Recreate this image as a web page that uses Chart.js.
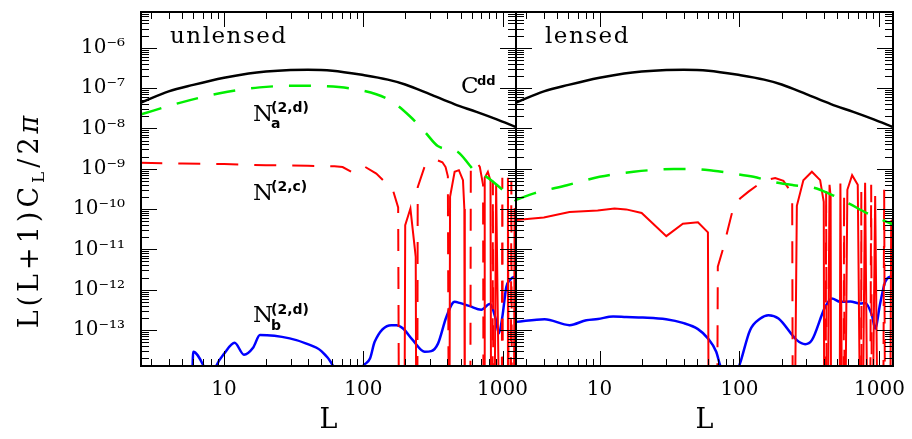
<!DOCTYPE html>
<html><head><meta charset="utf-8">
<script src="https://cdn.jsdelivr.net/npm/chart.js@4.4.1/dist/chart.umd.min.js"></script>
<style>
html,body{margin:0;padding:0;background:#fff;overflow:hidden}
#wrap{position:relative;width:912px;height:439px;background:#fff}
#cL{position:absolute;left:0;top:0;width:530px;height:439px}
#cR{position:absolute;left:506px;top:0;width:406px;height:439px}
</style></head><body><div id="wrap">
<canvas id="cL" width="530" height="439"></canvas>
<canvas id="cR" width="406" height="439"></canvas>
</div>
<script>
// ---------------- data ----------------
const cddL = [2.5, 4, 6, 10, 15, 20, 30, 40, 60, 100, 150, 200, 300, 450, 650, 900, 1250];
const cddV = [4.3e-8, 8.3e-8, 1.2e-7, 1.8e-7, 2.3e-7, 2.57e-7, 2.8e-7, 2.85e-7, 2.7e-7, 2.1e-7, 1.62e-7, 1.23e-7, 7.1e-8, 4.0e-8, 2.57e-8, 1.7e-8, 1.08e-8];

const naUnlensedL = [2.5, 4.8, 9.3, 18, 33, 49, 100, 155, 216, 277, 345, 478, 582, 650, 765, 1000, 1250];
const naUnlensedV = [2.2e-8, 4.3e-8, 7.4e-8, 1.04e-7, 1.14e-7, 1.12e-7, 8.6e-8, 5.0e-8, 2.0e-8, 8.2e-9, 3.6e-9, 2.6e-9, 1.2e-9, 7.6e-10, 6.3e-10, 3.0e-10, 1.6e-10];

const naLensedL = [2.5, 3.4, 5.85, 10, 17.5, 34, 47, 65, 90, 126, 175, 243, 338, 445, 618, 813, 1130, 1250];
const naLensedV = [1.66e-10, 2.44e-10, 3.9e-10, 6.3e-10, 8.4e-10, 9.8e-10, 9.8e-10, 8.9e-10, 7.6e-10, 6.3e-10, 4.7e-10, 3.9e-10, 3.4e-10, 2.34e-10, 1.32e-10, 7.9e-11, 4.8e-11, 4.2e-11];

// N^(2,c): signed values (positive = solid, negative = dashed, 0 = zero crossing)
const ncUnlensedL = [2.5, 5, 10, 20, 40, 62, 71, 82, 92, 100, 124, 163, 178, 181,
  197, 200, 218, 238, 241,
  244, 246, 275, 300, 338, 370, 390, 405, 412,
  415, 420, 453, 486, 520, 532, 536,
  586, 592, 614, 650, 687, 725, 732,
  738, 745, 785, 820, 830,
  845, 853, 861,
  870, 900, 960,
  985, 997, 1010,
  1080, 1094, 1110,
  1145, 1157, 1170,
  1205, 1222, 1250];
const ncUnlensedV = [-1.4e-9, -1.35e-9, -1.3e-9, -1.22e-9, -1.18e-9, -1.15e-9, -1.1e-9, -8.4e-10, -1.02e-9, -1.18e-9, -7.6e-10, -3e-10, -1.1e-10, 0,
  0, 4e-11, 1.03e-10, 6.5e-12, 0,
  0, -3.5e-10, -1.1e-9, -1.48e-9, -1.63e-9, -1.45e-9, -1.1e-9, -6.5e-10, 0,
  0, 2e-10, 8.4e-10, 9.2e-10, 5.2e-10, 1e-10, 0,
  0, -1.2e-9, -1.23e-9, -1.48e-9, -1.11e-9, -4e-10, 0,
  0, 6e-10, 8.4e-10, 5e-10, 0,
  0, -5e-10, 0,
  0, 4e-10, 0,
  0, -6e-10, 0,
  0, 6e-10, 0,
  0, -5e-10, 0,
  0, 1e-10, 1e-10];

const ncLensedL = [2.5, 4, 6.1, 9.7, 12.8, 15.5, 20, 30, 39.4, 50.5, 59.5, 60.5,
  69, 70, 77, 83.4, 90.6, 101, 116, 148, 180, 206, 228, 238, 241,
  246, 257, 286, 329, 377, 400, 404,
  412, 416, 421,
  424, 440, 448, 452,
  518, 526, 545,
  553, 559, 565,
  566, 590, 638, 700, 735,
  738, 742, 747,
  752, 790, 828,
  855, 873, 885,
  888, 932, 980,
  1060, 1081, 1100,
  1190, 1213, 1253];
const ncLensedV = [5.3e-11, 6.2e-11, 8.4e-11, 9.2e-11, 1.03e-10, 9.8e-11, 8e-11, 2.13e-11, 4.3e-11, 4.7e-11, 2.63e-11, 0,
  0, -3.7e-12, -1.15e-11, -3.6e-11, -1.13e-10, -1.83e-10, -2.7e-10, -5e-10, -5.9e-10, -5e-10, -3e-10, -2e-10, 0,
  0, 1.2e-10, 5.2e-10, 8.4e-10, 5.2e-10, 1.5e-10, 0,
  0, -3e-10, 0,
  0, 4e-10, 2e-10, 0,
  0, 4.3e-10, 0,
  0, -2.5e-10, 0,
  0, 3e-10, 6.9e-10, 4e-10, 0,
  0, -3e-10, 0,
  0, 4.5e-10, 0,
  0, -4e-10, 0,
  0, 2.1e-10, 0,
  0, -3e-10, 0,
  0, 5e-11, 5.5e-11];

const nbUnlensedL = [5.9, 6, 7.2, 8, 8.8, 10.1, 11.9, 13.9, 16.2, 18.1, 29.6, 39, 50, 60.6, 75, 100, 111.7, 120.7, 159, 173, 193, 227, 276, 308, 344, 395, 453, 492, 582, 705, 810, 892, 942, 997, 1065, 1127, 1222, 1250];
const nbUnlensedV = [5e-15, 2.9e-14, 1.2e-14, 5e-15, 1.3e-14, 2.7e-14, 4.8e-14, 2.45e-14, 3.7e-14, 7.5e-14, 6.2e-14, 4.6e-14, 3.0e-14, 1.3e-14, 2e-15, 1.3e-14, 1.96e-14, 5.1e-14, 1.32e-13, 1.32e-13, 1.09e-13, 5.6e-14, 2.9e-14, 3.0e-14, 4.6e-14, 2.1e-13, 5.0e-13, 4.7e-13, 3.9e-13, 3.2e-13, 4.4e-13, 1.93e-13, 8.2e-14, 2.1e-13, 1.17e-12, 1.72e-12, 2.09e-12, 2.1e-12];

const nbLensedL = [2.54, 4.05, 6.1, 8.04, 9.74, 12.5, 15.5, 20.4, 29.9, 39.4, 50.5, 59.5, 68.2, 72.8, 85, 101, 119, 141, 161, 190, 257, 295, 329, 409, 457, 524, 618, 728, 791, 883, 932, 1012, 1099, 1227, 1253];
const nbLensedV = [1.59e-13, 1.85e-13, 1.32e-13, 1.75e-13, 1.88e-13, 2.16e-13, 2.1e-13, 2.04e-13, 1.85e-13, 1.5e-13, 1.05e-13, 6.2e-14, 2.9e-14, 1.3e-14, 3e-15, 1.5e-14, 9.9e-14, 1.93e-13, 2.33e-13, 1.93e-13, 5.6e-14, 4.45e-14, 5.6e-14, 3.7e-13, 6.05e-13, 5.0e-13, 5.1e-13, 4.55e-13, 4.7e-13, 2.33e-13, 1.09e-13, 4.55e-13, 1.56e-12, 2.16e-12, 2.2e-12];

const xTickValues = [10, 100, 1000];
const xTickLabels = ['10', '100', '1000'];
const yTickExponents = [-13, -12, -11, -10, -9, -8, -7, -6];

const X_MIN = 2.53, X_MAX = 1250, Y_MIN = 1.28e-14, Y_MAX = 7.7e-6;
const TINY = 1e-17;

// ---------------- helpers ----------------
const SUP = {'-':'\u207B','0':'\u2070','1':'\u00B9','2':'\u00B2','3':'\u00B3','4':'\u2074','5':'\u2075','6':'\u2076','7':'\u2077','8':'\u2078','9':'\u2079'};
function supStr(n){ return String(n).split('').map(c => SUP[c]).join(''); }
function pts(Ls, Vs){ return Ls.map((l,i) => ({x:l, y:Vs[i]})); }
function signed(Ls, Vs, wantPos){
  return Ls.map((l,i) => {
    const v = Vs[i];
    if (v === 0) return {x:l, y:TINY};
    if ((v > 0) === wantPos) return {x:l, y:Math.abs(v)};
    return {x:l, y:null};
  });
}
function txt(ctx, s, x, y, font, sp){
  ctx.font = font;
  if (!sp){ ctx.fillText(s, x, y); return x + ctx.measureText(s).width; }
  for (const ch of s){ ctx.fillText(ch, x, y); x += ctx.measureText(ch).width + sp; }
  return x - sp;
}

const DASH = [22, 16];
const GREEN = '#00ee00', RED = '#ff0000', BLUE = '#0000ff';

function datasets(naL, naV, ncL, ncV, nbL, nbV){
  return [
    {data: pts(cddL, cddV), borderColor:'#000', borderWidth:2.5, cubicInterpolationMode:'monotone'},
    {data: pts(naL, naV), borderColor:GREEN, borderWidth:2.5, borderDash:DASH, cubicInterpolationMode:'monotone'},
    {data: signed(ncL, ncV, true), borderColor:RED, borderWidth:2, tension:0, spanGaps:false},
    {data: signed(ncL, ncV, false), borderColor:RED, borderWidth:2, borderDash:DASH, tension:0, spanGaps:false},
    {data: pts(nbL, nbV), borderColor:BLUE, borderWidth:2.5, cubicInterpolationMode:'monotone'}
  ];
}

const framePlugin = {
  id:'frame',
  afterDraw(chart){
    const {ctx, chartArea:a, scales:{x, y}} = chart;
    ctx.save();
    ctx.beginPath();
    ctx.strokeStyle = '#000'; ctx.lineWidth = 1;
    for (let e = 0; e <= 3; e++) for (let m = 1; m <= 9; m++){
      const v = m * Math.pow(10, e);
      if (v <= X_MIN || v >= X_MAX) continue;
      const px = Math.round(x.getPixelForValue(v)) + 0.5;
      const len = m === 1 ? 15 : 7;
      ctx.moveTo(px, a.bottom); ctx.lineTo(px, a.bottom - len);
      ctx.moveTo(px, a.top); ctx.lineTo(px, a.top + len);
    }
    for (let e = -14; e <= -6; e++) for (let m = 1; m <= 9; m++){
      const v = m * Math.pow(10, e);
      if (v <= Y_MIN || v >= Y_MAX) continue;
      const py = Math.round(y.getPixelForValue(v)) + 0.5;
      const len = m === 1 ? 16 : 8;
      ctx.moveTo(a.left, py); ctx.lineTo(a.left + len, py);
      ctx.moveTo(a.right, py); ctx.lineTo(a.right - len, py);
    }
    ctx.stroke();
    ctx.lineWidth = 2;
    ctx.strokeRect(a.left, a.top, a.right - a.left, a.bottom - a.top);
    ctx.restore();
  }
};

const SERIF = 'DejaVu Serif';
const SANS = 'DejaVu Sans';

const leftText = {
  id:'leftText',
  afterDraw(chart){
    const ctx = chart.ctx;
    ctx.save();
    ctx.fillStyle = '#000';
    ctx.textBaseline = 'alphabetic';
    ctx.textAlign = 'left';
    txt(ctx, 'unlensed', 170, 43, '23px ' + SERIF, 1.5);
    txt(ctx, 'C', 461, 93, '23px ' + SERIF);
    txt(ctx, 'dd', 477, 85, 'bold 13px ' + SANS);
    txt(ctx, 'N', 253, 121, '23px ' + SERIF);
    txt(ctx, '(2,d)', 271, 112, 'bold 14px ' + SANS);
    txt(ctx, 'a', 271, 128, 'bold 14px ' + SANS);
    txt(ctx, 'N', 253, 200, '23px ' + SERIF);
    txt(ctx, '(2,c)', 271, 191, 'bold 14px ' + SANS);
    txt(ctx, 'N', 253, 322, '23px ' + SERIF);
    txt(ctx, '(2,d)', 271, 314, 'bold 14px ' + SANS);
    txt(ctx, 'b', 271, 330, 'bold 14px ' + SANS);
    // y-axis title
    ctx.translate(38, 222);
    ctx.rotate(-Math.PI / 2);
    const f = '27px ' + SERIF, fs = '17px ' + SERIF, fp = 'italic 27px ' + SERIF, sp = 4;
    const meas = (s, font) => { ctx.font = font; let w = 0; for (const ch of s) w += ctx.measureText(ch).width + sp; return w; };
    const total = meas('L(L+1)C', f) + meas('L', fs) + meas('/2', f) + meas('\u03C0', fp) - sp;
    let cx = -total / 2;
    cx = txt(ctx, 'L(L+1)C', cx, 0, f, sp) + sp;
    cx = txt(ctx, 'L', cx, 6, fs, sp) + sp;
    cx = txt(ctx, '/2', cx, 0, f, sp) + sp;
    txt(ctx, '\u03C0', cx, 0, fp, sp);
    ctx.restore();
  }
};
const rightText = {
  id:'rightText',
  afterDraw(chart){
    const ctx = chart.ctx;
    ctx.save();
    ctx.fillStyle = '#000';
    txt(ctx, 'lensed', 545 - 506, 43, '23px ' + SERIF, 1.5);
    ctx.restore();
  }
};

function makeOptions(showY, padLeft, padRight){
  return {
    responsive:false, animation:false, devicePixelRatio:1,
    layout:{padding:{left:padLeft, right:padRight, top:12, bottom:0}},
    elements:{point:{radius:0}, line:{fill:false}},
    plugins:{legend:{display:false}, tooltip:{enabled:false}},
    scales:{
      x:{
        type:'logarithmic', min:X_MIN, max:X_MAX,
        grid:{display:false, drawTicks:false}, border:{display:false},
        afterBuildTicks(s){ s.ticks = xTickValues.map(v => ({value:v})); },
        afterFit(s){ s.height = 73; s.paddingLeft = 0; s.paddingRight = 0; s.paddingTop = 0; s.paddingBottom = 0; },
        ticks:{autoSkip:false, maxRotation:0, padding:12, color:'#000', font:{family:SERIF, size:20},
          callback(v){ const i = xTickValues.indexOf(v); return i >= 0 ? xTickLabels[i] : ''; }},
        title:{display:true, text:'L', color:'#000', font:{family:SERIF, size:27}, padding:{top:0, bottom:2}}
      },
      y:{
        type:'logarithmic', min:Y_MIN, max:Y_MAX, display:showY,
        grid:{display:false, drawTicks:false}, border:{display:false},
        afterBuildTicks(s){ s.ticks = yTickExponents.map(e => ({value:Math.pow(10, e)})); },
        afterFit(s){ s.width = showY ? 141 : 0; s.paddingLeft = 0; s.paddingRight = 0; s.paddingTop = 0; s.paddingBottom = 0; },
        ticks:{autoSkip:false, padding:16, color:'#000', font:{family:SERIF, size:20},
          callback(v){ return '10' + supStr(Math.round(Math.log10(v))); }}
      }
    }
  };
}

new Chart(document.getElementById('cL'), {
  type:'line',
  data:{datasets: datasets(naUnlensedL, naUnlensedV, ncUnlensedL, ncUnlensedV, nbUnlensedL, nbUnlensedV)},
  options: makeOptions(true, 0, 14),
  plugins:[framePlugin, leftText]
});
new Chart(document.getElementById('cR'), {
  type:'line',
  data:{datasets: datasets(naLensedL, naLensedV, ncLensedL, ncLensedV, nbLensedL, nbLensedV)},
  options: makeOptions(false, 10, 19),
  plugins:[framePlugin, rightText]
});
</script></body></html>
